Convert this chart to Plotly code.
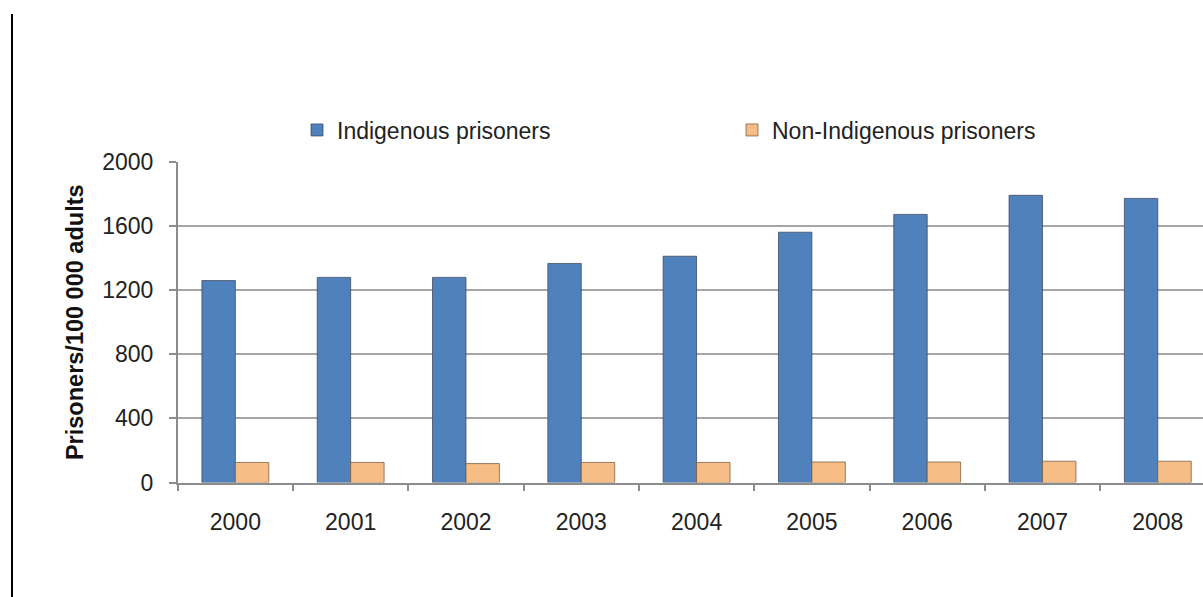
import plotly.graph_objects as go

years = ["2000", "2001", "2002", "2003", "2004", "2005", "2006", "2007", "2008"]
indigenous = [1260, 1280, 1280, 1367, 1412, 1562, 1673, 1792, 1773]
non_indigenous = [125, 125, 118, 125, 125, 128, 128, 133, 133]
y_ticks = [0, 400, 800, 1200, 1600, 2000]

W, H = 1203, 597
FONT = "Arial, Liberation Sans, sans-serif"
FS = 23

fig = go.Figure()
fig.add_trace(go.Bar(
    x=years, y=indigenous, name="Indigenous prisoners",
    marker=dict(color="#4F81BD", line=dict(color="rgba(60,70,90,0.75)", width=1)),
))
fig.add_trace(go.Bar(
    x=years, y=non_indigenous, name="Non-Indigenous prisoners",
    marker=dict(color="#F6BE86", line=dict(color="rgba(120,90,60,0.75)", width=1)),
))

x0 = 177.7 / W
y_bot = 1 - 482.5 / H
y_top = 1 - 162 / H

fig.update_layout(
    width=W, height=H, autosize=False,
    margin=dict(l=0, r=0, t=0, b=0, autoexpand=False),
    paper_bgcolor="white", plot_bgcolor="white",
    barmode="group", bargap=0.42, bargroupgap=0,
    font=dict(family=FONT, size=FS, color="#222222"),
    showlegend=True,
    legend=dict(
        orientation="h", x=297 / W, y=1 - 130 / H, xanchor="left", yanchor="middle",
        font=dict(size=FS, color="#222222"), entrywidth=390, entrywidthmode="pixels",
        bgcolor="rgba(0,0,0,0)", tracegroupgap=0,
    ),
    xaxis=dict(
        domain=[x0, 1], range=[-0.5, 8.392], type="category",
        showgrid=False, showline=True, linecolor="#8C8C8C", linewidth=1.5,
        ticks="outside", tickson="boundaries", ticklen=7, tickcolor="#8C8C8C", tickwidth=1.5,
        ticklabelstandoff=18, automargin=False,
        tickfont=dict(size=FS, color="#222222"),
    ),
    yaxis=dict(
        domain=[y_bot, y_top], range=[0, 2000],
        tickvals=y_ticks, ticktext=[str(v) for v in y_ticks],
        showgrid=True, gridcolor="#A6A6A6", gridwidth=1.5,
        showline=True, linecolor="#8C8C8C", linewidth=1.5,
        ticks="outside", ticklen=7, tickcolor="#8C8C8C", tickwidth=1.5,
        ticklabelstandoff=11, automargin=False, zeroline=False,
        tickfont=dict(size=FS, color="#222222"),
        title=dict(text="<b>Prisoners/100 000 adults</b>", standoff=12,
                   font=dict(size=23.5, color="#111111")),
    ),
    shapes=[dict(type="line", xref="paper", yref="paper",
                 x0=12 / W, x1=12 / W, y0=1 - 14 / H, y1=0,
                 line=dict(color="black", width=2))],
)

fig.write_html(
    "out.html",
    config={"displayModeBar": False},
    post_script="document.body.style.margin='0';document.body.style.overflow='hidden';",
)
